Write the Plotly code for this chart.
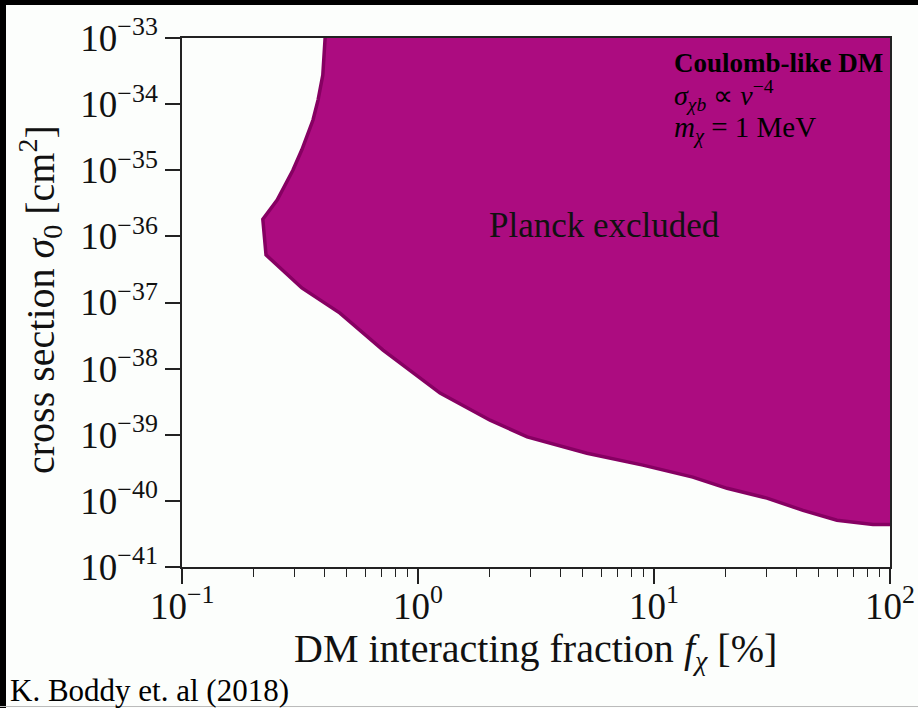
import math
import plotly.graph_objects as go

# Planck exclusion boundary (interacting fraction in %, cross section in cm^2)
f_boundary = [0.404, 0.395, 0.377, 0.359, 0.322, 0.295, 0.253, 0.220, 0.227,
              0.322, 0.467, 0.711, 1.24, 2.02, 2.90, 5.20, 8.97, 14.6, 20.4,
              30.1, 42.8, 59.6, 84.7, 100.0]
sigma_boundary = [1.0e-33, 2.75e-34, 1.15e-34, 5.75e-35, 2.04e-35, 1.0e-35,
                  3.55e-36, 1.82e-36, 5.25e-37, 1.66e-37, 6.9e-38, 1.9e-38,
                  4.27e-39, 1.66e-39, 9.3e-40, 5.25e-40, 3.47e-40, 2.29e-40,
                  1.55e-40, 1.10e-40, 7.2e-41, 5.1e-41, 4.4e-41, 4.4e-41]

# Upper-right corner of the excluded region
f_corner = [100.0]
sigma_corner = [1.0e-33]

x_tickvals = [0.1, 1, 10, 100]
x_ticktext = ["10<sup>−1</sup>", "10<sup>0</sup>", "10<sup>1</sup>", "10<sup>2</sup>"]
y_exponents = [-33, -34, -35, -36, -37, -38, -39, -40, -41]

FILL = "#AC0C80"
EDGE = "#860062"
SERIF = "Liberation Serif"

# Plot-area geometry in pixels
W, H = 918, 708
L, R, T, B = 182, 890, 38, 567


def px(xp):
    return (xp - L) / (R - L)


def py(yp):
    return (B - yp) / (B - T)


fig = go.Figure()

fig.add_trace(go.Scatter(
    x=f_boundary + f_corner + [f_boundary[0]],
    y=sigma_boundary + sigma_corner + [sigma_boundary[0]],
    mode="lines", fill="toself", fillcolor=FILL,
    line=dict(width=0, color=FILL), hoverinfo="skip", showlegend=False,
))
fig.add_trace(go.Scatter(
    x=f_boundary, y=sigma_boundary, mode="lines",
    line=dict(color=EDGE, width=3.5), hoverinfo="skip", showlegend=False,
))

minor_vals = [m * 10.0 ** e for e in (-1, 0, 1) for m in range(2, 10)]

fig.update_xaxes(
    type="log", range=[-1, 2], automargin=False,
    tickvals=x_tickvals, showticklabels=False,
    ticks="outside", ticklen=15, tickwidth=1.5, tickcolor="#222",
    minor=dict(tickvals=minor_vals, ticks="outside", ticklen=8,
               tickwidth=1.2, tickcolor="#222", showgrid=False),
    showline=True, linecolor="#222", linewidth=1.5, mirror=True,
    showgrid=False, zeroline=False,
)
fig.update_yaxes(
    type="log", range=[-41, -33], automargin=False,
    tickvals=[10.0 ** e for e in y_exponents],
    ticktext=["10<sup>−%d</sup>" % (-e) for e in y_exponents],
    ticks="outside", ticklen=15, tickwidth=1.5, tickcolor="#222",
    showline=True, linecolor="#222", linewidth=1.5, mirror=True,
    showgrid=False, zeroline=False,
    tickfont=dict(family=SERIF, size=37, color="#111"),
)

# x tick labels, placed on the axis values just under the tick marks
annotations = [
    dict(text=t, x=math.log10(v), xref="x", y=py(603), yref="paper",
         font=dict(family=SERIF, size=37, color="#111"),
         xanchor="center", yanchor="middle", showarrow=False)
    for v, t in zip(x_tickvals, x_ticktext)
]

text_items = [
    dict(text="Planck excluded", x=px(604), y=py(226),
         font=dict(family=SERIF, size=35, color="#111"),
         xanchor="center", yanchor="middle"),
    dict(text="<b>Coulomb-like DM</b>", x=px(672), y=py(63),
         font=dict(family=SERIF, size=27, color="#000"),
         xanchor="left", yanchor="middle"),
    dict(text="<i>σ</i><sub><i>χb</i></sub> ∝ <i>v</i><sup>−4</sup>",
         x=px(672), y=py(95),
         font=dict(family=SERIF, size=28, color="#000"),
         xanchor="left", yanchor="middle"),
    dict(text="<i>m</i><sub><i>χ</i></sub> = 1 MeV", x=px(672), y=py(129),
         font=dict(family=SERIF, size=29, color="#000"),
         xanchor="left", yanchor="middle"),
    dict(text="DM interacting fraction <i>f</i><sub><i>χ</i></sub> [%]",
         x=px(535), y=py(651),
         font=dict(family=SERIF, size=40, color="#111"),
         xanchor="center", yanchor="middle"),
    dict(text="cross section <i>σ</i><sub>0</sub> [cm<sup>2</sup>]",
         x=px(40), y=py(300), textangle=-90,
         font=dict(family=SERIF, size=40, color="#111"),
         xanchor="center", yanchor="middle"),
    dict(text="K. Boddy et. al (2018)", x=px(8), y=py(690),
         font=dict(family=SERIF, size=31, color="#000"),
         xanchor="left", yanchor="middle"),
]
for a in text_items:
    a.update(xref="paper", yref="paper", showarrow=False)
annotations += text_items

shapes = [
    # dark frame strips along the top and left edges
    dict(type="rect", xref="paper", yref="paper",
         x0=px(0), x1=px(W), y0=py(5), y1=py(0),
         fillcolor="#000", line=dict(width=0), layer="above"),
    dict(type="rect", xref="paper", yref="paper",
         x0=px(0), x1=px(6), y0=py(H), y1=py(0),
         fillcolor="#000", line=dict(width=0), layer="above"),
    dict(type="line", xref="paper", yref="paper",
         x0=px(0), x1=px(W), y0=py(706.5), y1=py(706.5),
         line=dict(color="#bbb", width=1)),
]

fig.update_layout(
    width=W, height=H,
    margin=dict(l=L, r=W - R, t=T, b=H - B),
    paper_bgcolor="#FCFEFC", plot_bgcolor="#FCFEFC",
    annotations=annotations, shapes=shapes,
    showlegend=False,
)

fig.write_html("out.html")
